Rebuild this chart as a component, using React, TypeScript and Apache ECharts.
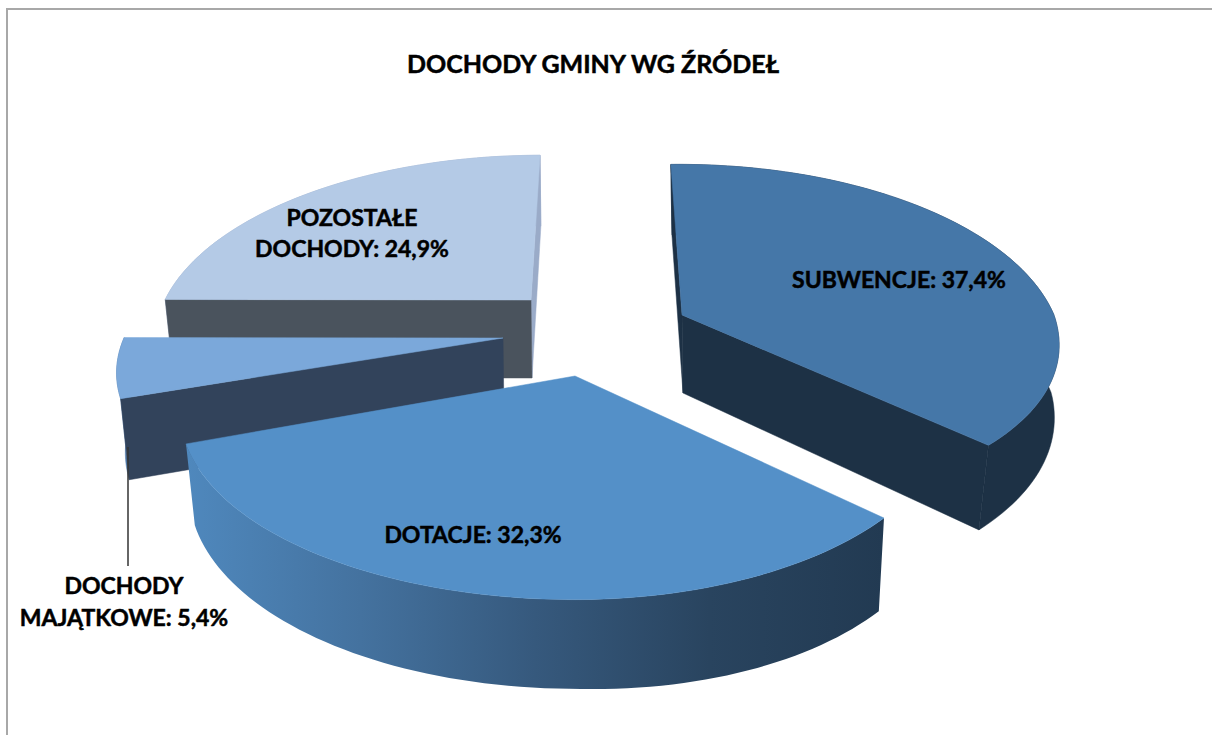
import React, { useEffect, useRef } from "react";
import * as echarts from "echarts";

const titleText = "DOCHODY GMINY WG ŹRÓDEŁ";
const categories = ["SUBWENCJE", "DOTACJE", "DOCHODY MAJĄTKOWE", "POZOSTAŁE DOCHODY"];
const shares = [37.4, 32.3, 5.4, 24.9];
const labelLines = [
  ["SUBWENCJE: 37,4%"],
  ["DOTACJE: 32,3%"],
  ["DOCHODY", "MAJĄTKOWE: 5,4%"],
  ["POZOSTAŁE", "DOCHODY: 24,9%"],
];

// geometry of the extruded, perspective-projected disc
const START_ANGLE = -1.5;
const PERSPECTIVE = 0.195;
const SIDE_SY = 1.05;
const DEPTH = 78;
const paintOrder = [3, 2, 0, 1];
const sliceLayout = [
  { x: 682, y: 315, a: 372, aRight: 372, b: 180, nudge: 0, backShear: 0.02, fx: 0.978, fy: 0.916, sideSx: 0.965, sideSxBack: 0.99, sideTilt: 0 },
  { x: 575, y: 376, a: 387, aRight: 367, b: 180, nudge: 0, backShear: 0, fx: 1, fy: 1, sideSx: 0.98, sideSxBack: 0.98, sideTilt: 0.026 },
  { x: 503, y: 338, a: 379, aRight: 379, b: 172, nudge: 1.3, backShear: 0, fx: 1, fy: 1, sideSx: 0.98, sideSxBack: 0.98, sideTilt: 0 },
  { x: 531, y: 300, a: 366, aRight: 366, b: 173, nudge: 1.3, backShear: -0.07, fx: 1, fy: 1, sideSx: 0.98, sideSxBack: 0.98, sideTilt: 0 },
];
const labelPos = [
  [899, 278.5],
  [473, 534],
  [124, 601],
  [352, 232.5],
];
const topColors = ["#4577a8", "#5490c8", "#7ba8da", "#b4cae6"];
const wallStart = ["#1d3145", "#22394f", "#32435b", "#4a535d"];
const wallEnd = ["#1d3145", "#22394f", "#32435b", "#9aabc8"];
const outerFill = (i: number): any =>
  i === 1
    ? new echarts.graphic.LinearGradient(0, 0, 1, 0, [
        { offset: 0, color: "#4f88bd" },
        { offset: 0.25, color: "#44729f" },
        { offset: 0.5, color: "#36597d" },
        { offset: 0.75, color: "#29445f" },
        { offset: 1, color: "#223a52" },
      ])
    : ["#1d3145", "", "#4f78a8", "#9aabc8"][i];

const project = (i: number, deg: number) => {
  const l = sliceLayout[i];
  const r = (deg * Math.PI) / 180;
  const u = Math.sin(r);
  const v = -Math.cos(r);
  const w = 1 - PERSPECTIVE * v;
  const t = Math.max(v, 0) / 0.7;
  const Y = ((l.b * v) / w) * (1 + (l.fy - 1) * t);
  const ax = u > 0 ? l.aRight : l.a;
  const X = ((ax * u) / w) * (1 + (l.fx - 1) * t) + l.backShear * Math.min(Y, 0);
  return { X, Y, t: Math.min(t, 1) };
};
const topPt = (i: number, deg: number) => {
  const l = sliceLayout[i];
  const p = project(i, deg);
  return [l.x + p.X, l.y + p.Y];
};
const botPt = (i: number, deg: number) => {
  const l = sliceLayout[i];
  const p = project(i, deg);
  const sx = l.sideSx + (l.sideSxBack - l.sideSx) * (1 - p.t);
  return [l.x + 1 + p.X * sx, l.y + DEPTH + p.Y * SIDE_SY + l.sideTilt * Math.max(p.X, 0)];
};

const renderSlice = (_params: any, api: any) => {
  const i = api.value(0) as number;
  const before = shares.slice(0, i).reduce((s, x) => s + x, 0);
  const total = shares.reduce((s, x) => s + x, 0);
  const a0 = START_ANGLE + (before / total) * 360 + sliceLayout[i].nudge;
  const a1 = a0 + ((api.value(1) as number) / total) * 360;
  const steps = Math.max(12, Math.round((a1 - a0) / 1.5));
  const angles: number[] = [];
  for (let k = 0; k <= steps; k++) angles.push(a0 + ((a1 - a0) * k) / steps);
  const l = sliceLayout[i];
  const apexT = [l.x, l.y];
  const apexB = [l.x + 1, l.y + DEPTH];
  const poly = (points: number[][], fill: any) => ({
    type: "polygon",
    shape: { points },
    style: typeof fill === "string" ? { fill, stroke: fill, lineWidth: 0.5 } : { fill, stroke: null },
  });
  const sin = (d: number) => Math.sin((d * Math.PI) / 180);
  const startWall = poly([apexT, topPt(i, a0), botPt(i, a0), apexB], wallStart[i]);
  const endWall = poly([apexT, topPt(i, a1), botPt(i, a1), apexB], wallEnd[i]);
  const outer = poly(
    [...angles.map((d) => topPt(i, d)), ...angles.slice().reverse().map((d) => botPt(i, d))],
    outerFill(i),
  );
  const back: any[] = [];
  const front: any[] = [];
  // a wall that faces away from the viewer only shows when it lies nearly edge-on
  if (sin(a0) < 0) front.push(startWall);
  else if (sin(a0) < 0.1) back.push(startWall);
  if (sin(a1) > 0) front.push(endWall);
  else if (sin(a1) > -0.1) back.push(endWall);
  return {
    type: "group",
    children: [...back, outer, ...front, poly([apexT, ...angles.map((d) => topPt(i, d))], topColors[i])],
  };
};

export default function App() {
  const ref = useRef<HTMLDivElement>(null);
  useEffect(() => {
    document.body.style.margin = "0";
    const chart = echarts.init(ref.current!, undefined, { renderer: "svg" });
    chart.setOption({
      animation: false,
      backgroundColor: "#fff",
      title: {
        text: titleText,
        left: 588,
        top: 45,
        textAlign: "center",
        textStyle: {
          fontFamily: "Lato",
          fontWeight: "bold",
          fontSize: 25,
          color: "#000",
          textBorderColor: "#000",
          textBorderWidth: 0.5,
        },
      },
      tooltip: { show: false },
      series: [
        {
          type: "custom",
          coordinateSystem: "none",
          renderItem: renderSlice,
          silent: true,
          data: paintOrder.map((i) => ({ name: categories[i], value: [i, shares[i]] })),
        },
      ],
      graphic: [
        { type: "line", z: 50, silent: true, shape: { x1: 6, y1: 9, x2: 1212, y2: 9 }, style: { stroke: "#a8a8a8", lineWidth: 2 } },
        { type: "line", z: 50, silent: true, shape: { x1: 7, y1: 8, x2: 7, y2: 735 }, style: { stroke: "#a8a8a8", lineWidth: 2 } },
        { type: "line", z: 50, silent: true, shape: { x1: 128, y1: 447, x2: 128, y2: 566 }, style: { stroke: "#333333", lineWidth: 1.5 } },
        ...labelLines.map((_, i) => ({
          type: "text",
          z: 60,
          silent: true,
          x: labelPos[i][0],
          y: labelPos[i][1],
          style: {
            fontFamily: "Lato",
            fontWeight: "bold",
            fontSize: 23,
            fill: "#000",
            stroke: "#000",
            lineWidth: 0.5,
            text: labelLines[i].join("\n"),
            align: "center",
            verticalAlign: "middle",
            lineHeight: 31.5,
          },
        })),
      ],
    });
    return () => chart.dispose();
  }, []);
  return <div ref={ref} style={{ width: 1212, height: 735 }} />;
}
